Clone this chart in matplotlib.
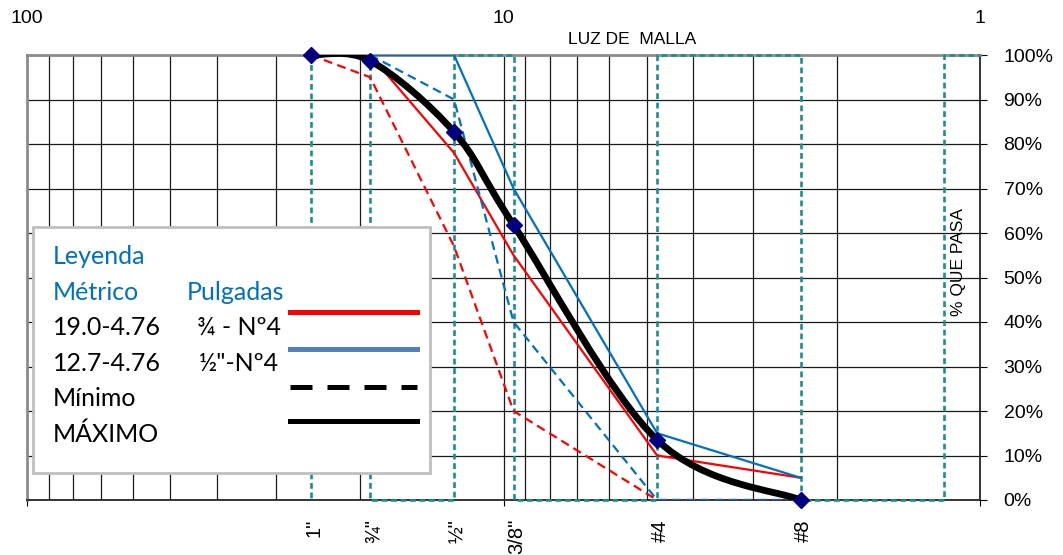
import numpy as np
import matplotlib
matplotlib.use("Agg")
import matplotlib.pyplot as plt
from matplotlib.path import Path
from matplotlib.patches import PathPatch, Rectangle
from matplotlib.lines import Line2D
from matplotlib.ticker import LogLocator, NullFormatter
from matplotlib.transforms import blended_transform_factory

# abertura de tamices (mm) y etiquetas
tamiz_mm = [25.4, 19.05, 12.7, 9.525, 4.76, 2.38]
tamiz_lbl = ['1"', '¾"', '½"', '3/8"', '#4', '#8']

# huso 19.0-4.76 (¾ - Nº4)
huso1_max = [100, 100, 78, 55, 10, 5]
huso1_min = [100, 95, 57, 20, 0, 0]
# huso 12.7-4.76 (½"-Nº4)
huso2_x = [19.05, 12.7, 9.525, 4.76, 2.38]
huso2_max = [100, 100, 70, 15, 5]
huso2_min = [100, 90, 40, 0, 0]
# curva granulometrica
maximo = [100, 98.7, 82.7, 61.8, 13.5, 0]

# lineas guia de tamices
guia1_x = [25.4, 25.4]
guia1_y = [100, 0]
guia2_x = [19.05, 19.05, 12.7, 12.7, 9.525, 9.525, 4.76, 4.76, 2.38, 2.38, 1.19, 1.19, 1.0]
guia2_y = [100, 0, 0, 100, 100, 0, 0, 100, 100, 0, 0, 100, 100]

W, H = 1063, 555
fig = plt.figure(figsize=(W / 100, H / 100), dpi=100)
ax = fig.add_axes([27 / W, 1 - 500 / H, 953 / W, 445 / H])

def px(x, y):
    return x / W, 1 - y / H

ax.set_xscale('log')
ax.set_xlim(100, 1)
ax.set_ylim(0, 100)

teal = '#18908f'
ax.plot(guia1_x, guia1_y, color=teal, lw=1.9, ls=(0, (2.2, 1.4)), zorder=2.6, clip_on=False)
ax.plot(guia2_x, guia2_y, color=teal, lw=1.9, ls=(0, (2.2, 1.4)), zorder=2.6, clip_on=False)

ax.plot(tamiz_mm, huso1_max, color='#ff0000', lw=1.6, zorder=3)
ax.plot(tamiz_mm, huso1_min, color='#ff0000', lw=1.6, ls=(0, (4, 2.4)), zorder=3)
ax.plot(huso2_x, huso2_max, color='#0070c0', lw=1.6, zorder=3)
ax.plot(huso2_x, huso2_min, color='#0070c0', lw=1.6, ls=(0, (4, 2.4)), zorder=3)

# curva suavizada (bezier en espacio log)
lx = np.log10(tamiz_mm)
yy = np.array(maximo, dtype=float)
pts = np.column_stack([lx, yy])
n = len(pts)
verts = [pts[0]]
codes = [Path.MOVETO]
for i in range(n - 1):
    p0 = pts[max(i - 1, 0)]
    p1 = pts[i]
    p2 = pts[i + 1]
    p3 = pts[min(i + 2, n - 1)]
    c1 = p1 + (p2 - p0) / 6
    c2 = p2 - (p3 - p1) / 6
    verts += [c1, c2, p2]
    codes += [Path.CURVE4] * 3
verts = np.array(verts)
verts[:, 0] = 10 ** verts[:, 0]
ax.add_patch(PathPatch(Path(verts, codes), fill=False, ec='black', lw=4.9,
                       capstyle='round', joinstyle='round', zorder=4))
ax.plot(tamiz_mm, maximo, ls='none', marker='D', ms=8, color='#000080',
        clip_on=False, zorder=5)

# ejes y rejilla
ax.set_xticks([100, 10, 1])
ax.set_xticklabels(['100', '10', '1'])
ax.xaxis.set_minor_locator(LogLocator(base=10, subs=range(2, 10)))
ax.xaxis.set_minor_formatter(NullFormatter())
ax.tick_params(axis='x', which='major', labeltop=True, labelbottom=False,
               top=False, bottom=True, length=4.5, pad=15.5, labelsize=14,
               labelfontfamily='Liberation Sans')
ax.tick_params(axis='x', which='minor', length=0, top=False, bottom=False)
ax.grid(which='both', axis='x', color='#1a1a1a', lw=0.9, zorder=1)

ax.yaxis.tick_right()
yt = list(range(0, 101, 10))
ax.set_yticks(yt)
ax.set_yticklabels([f'{v}%' for v in yt])
ax.tick_params(axis='y', length=5, pad=12, labelsize=14,
               labelfontfamily='Liberation Sans')
ax.grid(which='major', axis='y', color='#1a1a1a', lw=0.9, zorder=1)
ax.set_axisbelow(True)

for s in ['top', 'left']:
    ax.spines[s].set_color('#8c8c8c')
    ax.spines[s].set_linewidth(2)
for s in ['right', 'bottom']:
    ax.spines[s].set_color('#262626')
    ax.spines[s].set_linewidth(1.3)

# etiquetas de tamices abajo
tr = blended_transform_factory(ax.transData, ax.transAxes)
for x, lbl in zip(tamiz_mm, tamiz_lbl):
    ax.text(x * 0.985, -19 / 445, lbl, transform=tr, rotation=90, ha='center',
            va='top', fontsize=14.5, family='Liberation Sans')

fig.text(*px(632, 40), 'LUZ DE  MALLA', ha='center', va='center',
         fontsize=12.5, family='Liberation Sans')
fig.text(*px(959, 262), '% QUE PASA', ha='center', va='center', rotation=90,
         fontsize=12.5, family='Liberation Sans')

# leyenda dibujada a mano
bx, by = px(33, 473)
fig.add_artist(Rectangle((bx, by), 397 / W, 246 / H, transform=fig.transFigure,
                         fc='white', ec='#bfbfbf', lw=2, zorder=10))
azul = '#0070c0'
fsz = 18
fam = 'Lato'
fig.text(*px(53, 264), 'Leyenda', color=azul, fontsize=fsz, family=fam, va='baseline', zorder=11)
fig.text(*px(53, 300), 'Métrico', color=azul, fontsize=fsz, family=fam, va='baseline', zorder=11)
fig.text(*px(187, 300), 'Pulgadas', color=azul, fontsize=fsz, family=fam, va='baseline', zorder=11)
fig.text(*px(53, 335), '19.0-4.76', fontsize=fsz, family=fam, va='baseline', zorder=11)
fig.text(*px(197, 335), '¾ - Nº4', fontsize=fsz, family=fam, va='baseline', zorder=11)
fig.text(*px(53, 371), '12.7-4.76', fontsize=fsz, family=fam, va='baseline', zorder=11)
fig.text(*px(199, 371), '½"-Nº4', fontsize=fsz, family=fam, va='baseline', zorder=11)
fig.text(*px(53, 406), 'Mínimo', fontsize=fsz, family=fam, va='baseline', zorder=11)
fig.text(*px(53, 442), 'MÁXIMO', fontsize=fsz, family=fam, va='baseline', zorder=11)

muestras = [(312, '#ff0000', '-'), (349, '#4f81bd', '-'),
            (387, 'black', (0, (4.4, 3))), (421, 'black', '-')]
for yp, col, ls in muestras:
    x0, y0 = px(290, yp)
    x1, _ = px(417, yp)
    fig.add_artist(Line2D([x0, x1], [y0, y0], transform=fig.transFigure,
                          color=col, lw=3.6, ls=ls, zorder=11))

fig.savefig('out.png', dpi=100)
